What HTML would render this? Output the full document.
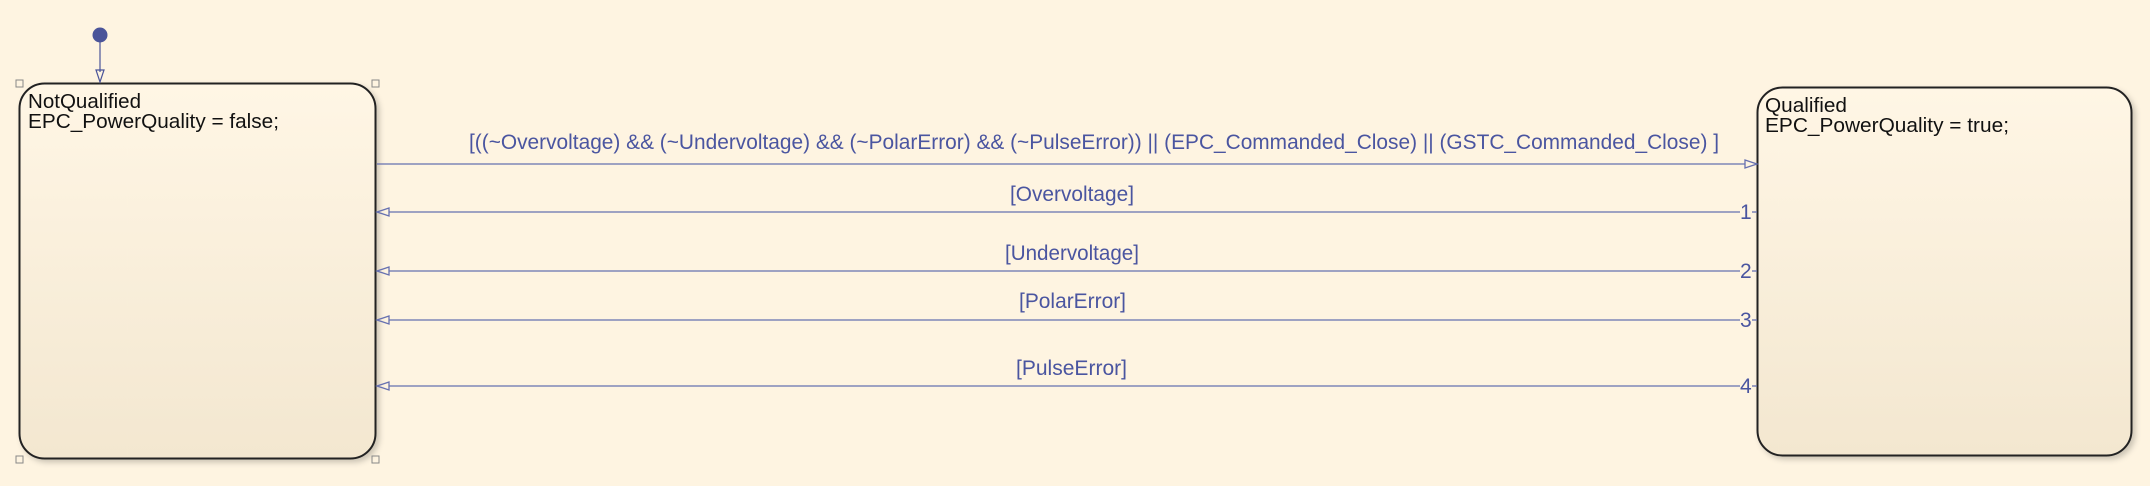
<!DOCTYPE html>
<html><head><meta charset="utf-8"><style>
html,body{margin:0;padding:0;background:#fef4e1;}
svg{display:block}
</style></head><body>
<svg width="2150" height="486" viewBox="0 0 2150 486" xmlns="http://www.w3.org/2000/svg">
<defs>
<linearGradient id="g" x1="0" y1="0" x2="0" y2="1">
<stop offset="0" stop-color="#fff6e5"/><stop offset="1" stop-color="#f3e7d0"/>
</linearGradient>
<filter id="sh" x="-5%" y="-5%" width="115%" height="115%"><feDropShadow dx="3" dy="3" stdDeviation="3" flood-color="#000" flood-opacity="0.2"/></filter>
</defs>
<rect width="2150" height="486" fill="#fef4e1"/>
<rect x="19.5" y="83.5" width="356" height="375" rx="25" fill="url(#g)" stroke="#222" stroke-width="2" filter="url(#sh)"/>
<rect x="1757.5" y="87.5" width="374" height="368" rx="25" fill="url(#g)" stroke="#222" stroke-width="2" filter="url(#sh)"/>
<g fill="none" stroke="#888" stroke-width="1">
<rect x="16" y="80" width="7" height="7"/><rect x="372" y="80" width="7" height="7"/>
<rect x="16" y="456" width="7" height="7"/><rect x="372" y="456" width="7" height="7"/>
</g>
<g font-family="Liberation Sans, sans-serif" font-size="20.5" fill="#111">
<text x="28" y="108" textLength="113" lengthAdjust="spacingAndGlyphs">NotQualified</text>
<text x="28" y="128" textLength="251" lengthAdjust="spacingAndGlyphs">EPC_PowerQuality = false;</text>
<text x="1765" y="112" textLength="82" lengthAdjust="spacingAndGlyphs">Qualified</text>
<text x="1765" y="132" textLength="244" lengthAdjust="spacingAndGlyphs">EPC_PowerQuality = true;</text>
</g>
<circle cx="100" cy="35" r="7.5" fill="#4a5499"/>
<line x1="100" y1="40" x2="100" y2="72" stroke="#4a5499" stroke-width="1.2"/>
<path d="M96,70 L104,70 L100,82 Z" fill="none" stroke="#4a5499" stroke-width="1.2"/>
<g stroke="#6670b0" stroke-width="1.3" fill="none">
<line x1="377" y1="164" x2="1745" y2="164"/>
<path d="M1745,160 L1757,164 L1745,168 Z"/>
<line x1="389" y1="212" x2="1740" y2="212"/>
<line x1="389" y1="271" x2="1740" y2="271"/>
<line x1="389" y1="320" x2="1740" y2="320"/>
<line x1="389" y1="386" x2="1740" y2="386"/>
<line x1="1752" y1="212" x2="1757" y2="212"/>
<line x1="1752" y1="271" x2="1757" y2="271"/>
<line x1="1752" y1="320" x2="1757" y2="320"/>
<line x1="1752" y1="386" x2="1757" y2="386"/>
<path d="M389,208 L377,212 L389,216 Z"/>
<path d="M389,267 L377,271 L389,275 Z"/>
<path d="M389,316 L377,320 L389,324 Z"/>
<path d="M389,382 L377,386 L389,390 Z"/>
</g>
<g font-family="Liberation Sans, sans-serif" font-size="21" fill="#4a55a0">
<text x="469" y="149" textLength="1250" lengthAdjust="spacingAndGlyphs">[((~Overvoltage) &amp;&amp; (~Undervoltage) &amp;&amp; (~PolarError) &amp;&amp; (~PulseError)) || (EPC_Commanded_Close) || (GSTC_Commanded_Close) ]</text>
<text x="1010" y="201" textLength="124" lengthAdjust="spacingAndGlyphs">[Overvoltage]</text>
<text x="1005" y="260" textLength="134" lengthAdjust="spacingAndGlyphs">[Undervoltage]</text>
<text x="1019" y="308" textLength="107" lengthAdjust="spacingAndGlyphs">[PolarError]</text>
<text x="1016" y="375" textLength="111" lengthAdjust="spacingAndGlyphs">[PulseError]</text>
<text x="1740" y="219">1</text>
<text x="1740" y="278">2</text>
<text x="1740" y="327">3</text>
<text x="1740" y="393">4</text>
</g>
</svg>
</body></html>
